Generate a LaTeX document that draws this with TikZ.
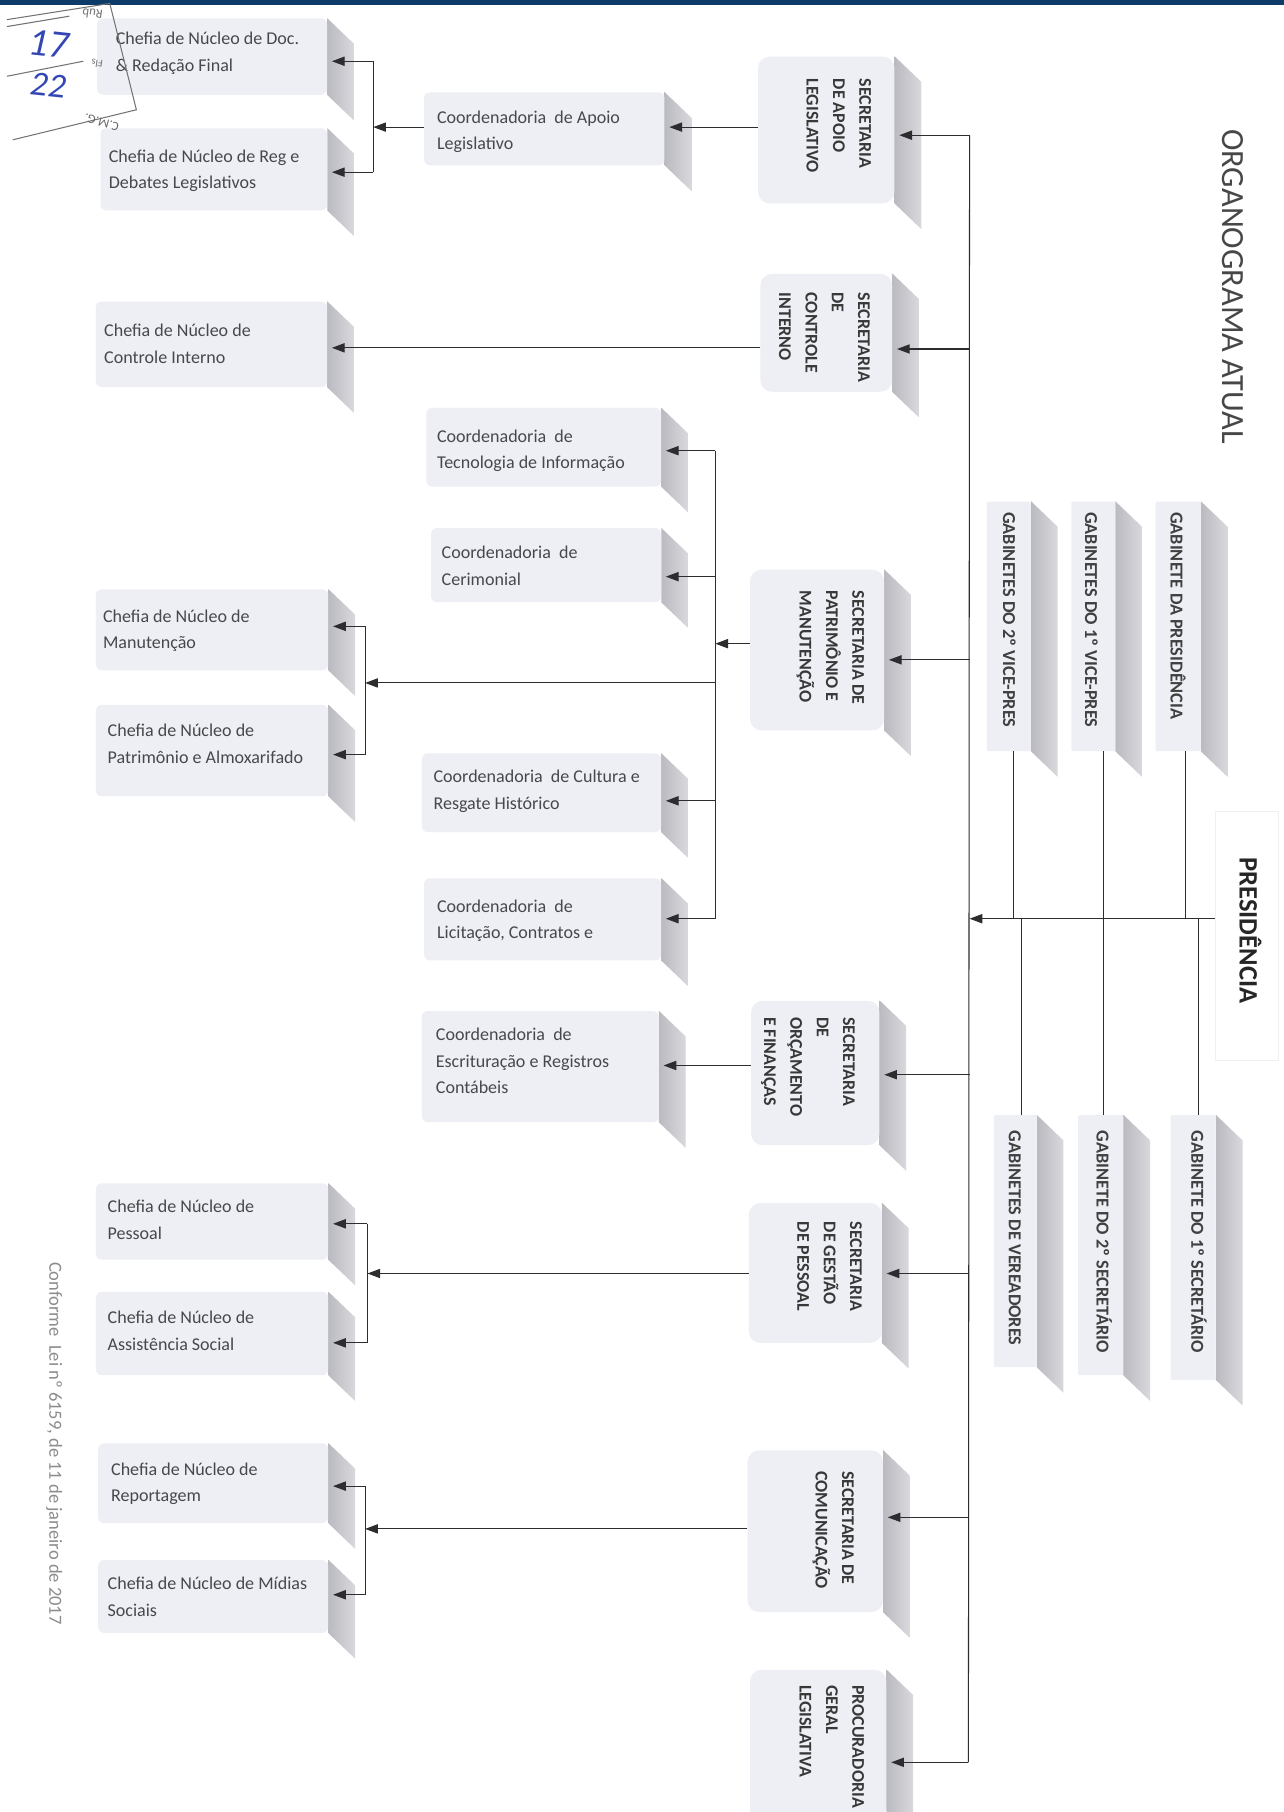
\documentclass[tikz,border=0pt]{standalone}
\usepackage{fontspec}
\setmainfont{Carlito}
\usetikzlibrary{arrows.meta,calc}
\definecolor{facecol}{RGB}{237,239,244}
\definecolor{sideL}{RGB}{186,186,192}
\definecolor{sideR}{RGB}{216,216,221}
\definecolor{linecol}{RGB}{45,45,48}
\definecolor{txtcol}{RGB}{72,72,76}
\definecolor{bartop}{RGB}{14,60,105}
\definecolor{inkblue}{RGB}{50,70,180}
\pgfdeclarelayer{back}
\pgfdeclarelayer{bg}
\pgfsetlayers{back,bg,main}
\tikzset{
 face/.style={draw=none, fill=facecol, rounded corners=5pt, inner sep=0pt},
 secface/.style={face, rounded corners=10pt},
 gabface/.style={face, rounded corners=1pt},
 lbl/.style={inner sep=0pt, anchor=north west, align=left, text=txtcol, font=\fontsize{15.6}{23}\selectfont},
 vlbl/.style={inner sep=0pt, anchor=north west, rotate=-90, align=left, text=black!78, font=\bfseries\fontsize{15.5}{22.8}\selectfont},
 glbl/.style={inner sep=0pt, anchor=base west, rotate=-90, text=black!75, font=\bfseries\fontsize{15.8}{18}\selectfont},
 arr/.style={draw=linecol, line width=0.9pt, -{Triangle[length=11pt,width=8pt]}},
 conn/.style={draw=linecol, line width=0.9pt},
}
\newcommand{\mkbox}[6]{%
 \node[#1, minimum width={(#5-#3)*1pt}, minimum height={(#6-#4)*1pt}] (#2) at ({(#3+#5)/2},{(#4+#6)/2}) {};
 \begin{pgfonlayer}{bg}
 \shade[left color=sideL, right color=sideR] (#2.north east) -- ++(23,22) -- ($(#2.south east)+(23,22)$) -- (#2.south east) -- cycle;
 \end{pgfonlayer}}
\begin{document}
\begin{tikzpicture}[x=1pt,y=-1pt]
\useasboundingbox (0,0) rectangle (1111,1568);
\begin{pgfonlayer}{back}
\fill[white] (0,0) rectangle (1111,1568);
\end{pgfonlayer}
\fill[bartop] (0,0) rectangle (1111,4);

% ---------- Chefias ----------
\mkbox{face}{hDoc}{84}{16}{283}{82}
\node[lbl] (hDoc-t) at (100,27.5) {Chefia de Núcleo de Doc.\\\& Redação Final};
\mkbox{face}{hReg}{87}{111}{283}{182}
\node[lbl] (hReg-t) at (94,129.5) {Chefia de Núcleo de Reg e\\Debates Legislativos};
\mkbox{face}{hCtrl}{83}{261}{283}{335}
\node[lbl] (hCtrl-t) at (90,280.5) {Chefia de Núcleo de\\Controle Interno};
\mkbox{face}{hMan}{83}{510}{284}{580}
\node[lbl] (hMan-t) at (89,527.5) {Chefia de Núcleo de\\Manutenção};
\mkbox{face}{hPat}{83}{610}{284}{689}
\node[lbl] (hPat-t) at (93,626.5) {Chefia de Núcleo de\\Patrimônio e Almoxarifado};
\mkbox{face}{hPes}{83}{1024}{284}{1090}
\node[lbl] (hPes-t) at (93,1038.5) {Chefia de Núcleo de\\Pessoal};
\mkbox{face}{hAss}{83}{1118}{284}{1190}
\node[lbl] (hAss-t) at (93,1134.5) {Chefia de Núcleo de\\Assistência Social};
\mkbox{face}{hRep}{85}{1249}{284}{1318}
\node[lbl] (hRep-t) at (96,1265.5) {Chefia de Núcleo de\\Reportagem};
\mkbox{face}{hMid}{85}{1350}{284}{1413}
\node[lbl] (hMid-t) at (93,1364.5) {Chefia de Núcleo de Mídias\\Sociais};

% ---------- Coordenadorias ----------
\mkbox{face}{cApoio}{367}{80}{575}{143}
\node[lbl] (cApoio-t) at (378,95.5) {Coordenadoria~ de Apoio\\Legislativo};
\mkbox{face}{cTec}{369}{353}{572}{421}
\node[lbl] (cTec-t) at (378,371.5) {Coordenadoria~ de\\Tecnologia de Informação};
\mkbox{face}{cCer}{373}{457}{572}{521}
\node[lbl] (cCer-t) at (382,472.5) {Coordenadoria~ de\\Cerimonial};
\mkbox{face}{cCul}{365}{652}{572}{720}
\node[lbl] (cCul-t) at (375,666.5) {Coordenadoria~ de Cultura e\\Resgate Histórico};
\mkbox{face}{cLic}{367}{760}{572}{831}
\node[lbl] (cLic-t) at (378,778.5) {Coordenadoria~ de\\Licitação, Contratos e};
\mkbox{face}{cEscr}{365}{875}{570}{971}
\node[lbl] (cEscr-t) at (377,889.5) {Coordenadoria~ de\\Escrituração e Registros\\Contábeis};

% ---------- Secretarias ----------
\mkbox{secface}{sApoio}{656}{49}{774}{176}
\node[vlbl] (sApoio-t) at (754,68) {SECRETARIA\\DE APOIO\\LEGISLATIVO};
\mkbox{secface}{sCtrl}{658}{237}{772}{339}
\node[vlbl] (sCtrl-t) at (753,253) {SECRETARIA\\DE\\CONTROLE\\INTERNO};
\mkbox{secface}{sPatr}{649}{493}{765}{632}
\node[vlbl] (sPatr-t) at (748,511) {SECRETARIA DE\\PATRIMÔNIO E\\MANUTENÇÃO};
\mkbox{secface}{sOrc}{650}{866}{761}{991}
\node[vlbl] (sOrc-t) at (740,880) {SECRETARIA\\DE\\ORÇAMENTO\\E FINANÇAS};
\mkbox{secface}{sGest}{648}{1041}{763}{1162}
\node[vlbl] (sGest-t) at (746,1057) {SECRETARIA\\DE GESTÃO\\DE PESSOAL};
\mkbox{secface}{sCom}{647}{1255}{764}{1395}
\node[vlbl] (sCom-t) at (739,1273) {SECRETARIA DE\\COMUNICAÇÃO};
\mkbox{secface}{sProc}{649}{1445}{767}{1600}
\node[vlbl] (sProc-t) at (748,1458) {PROCURADORIA\\GERAL\\LEGISLATIVA};

% ---------- Gabinetes ----------
\mkbox{gabface}{gPres}{1000}{434}{1039}{650}
\node[glbl] (gPres-t) at (1013,443) {GABINETE DA PRESIDÊNCIA};
\mkbox{gabface}{gVice1}{927}{434}{965}{650}
\node[glbl] (gVice1-t) at (939,443) {GABINETES DO 1º VICE-PRES};
\mkbox{gabface}{gVice2}{854}{434}{892}{650}
\node[glbl] (gVice2-t) at (868,443) {GABINETES DO 2º VICE-PRES};
\mkbox{gabface}{gVer}{860}{965}{897}{1183}
\node[glbl] (gVer-t) at (873,978) {GABINETES DE VEREADORES};
\mkbox{gabface}{gSec2}{933}{965}{972}{1190}
\node[glbl] (gSec2-t) at (949,978) {GABINETE DO 2º SECRETÁRIO};
\mkbox{gabface}{gSec1}{1013}{965}{1052}{1194}
\node[glbl] (gSec1-t) at (1031,978) {GABINETE DO 1º SECRETÁRIO};

% ---------- Presidência & titles ----------
\node[draw=black!6, line width=0.6pt, minimum width=55pt, minimum height=215pt, inner sep=0pt] (presBox) at (1079,810) {};
\node[rotate=-90, inner sep=0pt, text=black!85, font=\bfseries\fontsize{23}{26}\selectfont] (pres) at (1082,805) {PRESIDÊNCIA};
\node[rotate=-90, inner sep=0pt, text=black!72, font=\fontsize{28}{32}\selectfont] (title) at (1067,248) {ORGANOGRAMA ATUAL};
\node[rotate=-90, inner sep=0pt, text=black!45, font=\fontsize{16}{20}\selectfont] (foot) at (47,1249) {Conforme~ Lei nº 6159, de 11 de janeiro de 2017};

% ---------- spine ----------
\coordinate (rApoio) at (839,117);
\coordinate (rCtrl) at (839,302);
\coordinate (rPatr) at (839,571);
\coordinate (jSp) at (839,795);
\coordinate (rOrc) at (839,930);
\coordinate (rGest) at (838,1102);
\coordinate (rCom) at (838,1313);
\coordinate (rProc) at (838,1525);
\draw[conn] (rApoio) -- (rProc);
\draw[arr] (rApoio) -- ($(rApoio -| sApoio.east)+(4,0)$);
\draw[arr] (rCtrl) -- ($(rCtrl -| sCtrl.east)+(4,0)$);
\draw[arr] (rPatr) -- ($(rPatr -| sPatr.east)+(4,0)$);
\draw[arr] (rOrc) -- ($(rOrc -| sOrc.east)+(4,0)$);
\draw[arr] (rGest) -- ($(rGest -| sGest.east)+(4,0)$);
\draw[arr] (rCom) -- ($(rCom -| sCom.east)+(4,0)$);
\draw[arr] (rProc) -- ($(rProc -| sProc.east)+(4,0)$);
\draw[arr] (presBox.west |- jSp) -- (jSp);

% gabinete links
\draw[conn] ($(gPres.south)+(6.5,0)$) -- ($(gPres.south |- jSp)+(6.5,0)$);
\draw[conn] ($(gVice2.south)+(4,0)$) -- ($(gVice2.south |- jSp)+(4,0)$);
\draw[conn] ($(gVice1.south)+(9,0)$) -- ($(gVice1.south |- gSec2.north)+(9,0)$);
\draw[conn] ($(gVer.north |- jSp)+(5.5,0)$) -- ($(gVer.north)+(5.5,0)$);
\draw[conn] ($(gSec1.north |- jSp)+(4.5,0)$) -- ($(gSec1.north)+(4.5,0)$);

% Apoio group
\coordinate (bApoio) at (323,110);
\coordinate (bDoc) at (323,53);
\coordinate (bReg) at (323,149);
\draw[arr] (sApoio.west |- bApoio) -- ($(bApoio -| cApoio.east)+(4,0)$);
\draw[arr] (cApoio.west |- bApoio) -- (bApoio);
\draw[conn] (bDoc) -- (bReg);
\draw[arr] (bDoc) -- ($(bDoc -| hDoc.east)+(4,0)$);
\draw[arr] (bReg) -- ($(bReg -| hReg.east)+(4,0)$);

% Controle
\coordinate (oCtrl) at (500,301);
\draw[arr] (sCtrl.west |- oCtrl) -- ($(oCtrl -| hCtrl.east)+(4,0)$);

% Patrimonio group
\coordinate (bPatr) at (619,557);
\coordinate (bTec) at (619,390);
\coordinate (bCer) at (619,499);
\coordinate (bMan) at (619,591);
\coordinate (bCul) at (619,693);
\coordinate (bLic) at (619,795);
\draw[arr] (sPatr.west |- bPatr) -- (bPatr);
\draw[conn] (bTec) -- (bLic);
\draw[arr] (bTec) -- ($(bTec -| cTec.east)+(4,0)$);
\draw[arr] (bCer) -- ($(bCer -| cCer.east)+(4,0)$);
\draw[arr] (bCul) -- ($(bCul -| cCul.east)+(4,0)$);
\draw[arr] (bLic) -- ($(bLic -| cLic.east)+(4,0)$);
\coordinate (hbMid) at (316,591);
\coordinate (hbMan) at (316,542);
\coordinate (hbPat) at (316,653);
\draw[arr] (bMan) -- (hbMid);
\draw[conn] (hbMan) -- (hbPat);
\draw[arr] (hbMan) -- ($(hbMan -| hMan.east)+(4,0)$);
\draw[arr] (hbPat) -- ($(hbPat -| hPat.east)+(4,0)$);

% Orcamento
\coordinate (oOrc) at (600,922);
\draw[arr] (sOrc.west |- oOrc) -- ($(oOrc -| cEscr.east)+(4,0)$);

% Gestao de pessoal
\coordinate (bGest) at (318,1102);
\coordinate (hbPes) at (318,1059);
\coordinate (hbAss) at (318,1162);
\draw[arr] (sGest.west |- bGest) -- (bGest);
\draw[conn] (hbPes) -- (hbAss);
\draw[arr] (hbPes) -- ($(hbPes -| hPes.east)+(4,0)$);
\draw[arr] (hbAss) -- ($(hbAss -| hAss.east)+(4,0)$);

% Comunicacao
\coordinate (bCom) at (316,1323);
\coordinate (hbRep) at (316,1286);
\coordinate (hbMidias) at (316,1380);
\draw[arr] (sCom.west |- bCom) -- (bCom);
\draw[conn] (hbRep) -- (hbMidias);
\draw[arr] (hbRep) -- ($(hbRep -| hRep.east)+(4,0)$);
\draw[arr] (hbMidias) -- ($(hbMidias -| hMid.east)+(4,0)$);

% ---------- stamp ----------
\draw[black!55, line width=0.9pt] (6,17) -- (95,3) -- (118,95) -- (11,121);
\draw[black!55, line width=0.9pt] (6,23) -- (60,14);
\draw[black!55, line width=0.9pt] (6,66) -- (72,53);
\node[rotate=172, text=black!55, font=\fontsize{11}{12}\selectfont, inner sep=0pt] (stRub) at (80,12) {Rub};
\node[rotate=172, text=black!55, font=\fontsize{9}{10}\selectfont, inner sep=0pt] (stFls) at (84,55) {Fls};
\node[rotate=165, text=black!60, font=\fontsize{11}{12}\selectfont, inner sep=0pt] (stCMG) at (88,106) {C.M.G.};
\node[rotate=-6, text=inkblue, font=\itshape\fontsize{34}{36}\selectfont, inner sep=0pt] (st17) at (42,38) {17};
\node[rotate=-6, text=inkblue, font=\itshape\fontsize{30}{32}\selectfont, inner sep=0pt] (st22) at (42,74) {22};
\end{tikzpicture}
\end{document}
